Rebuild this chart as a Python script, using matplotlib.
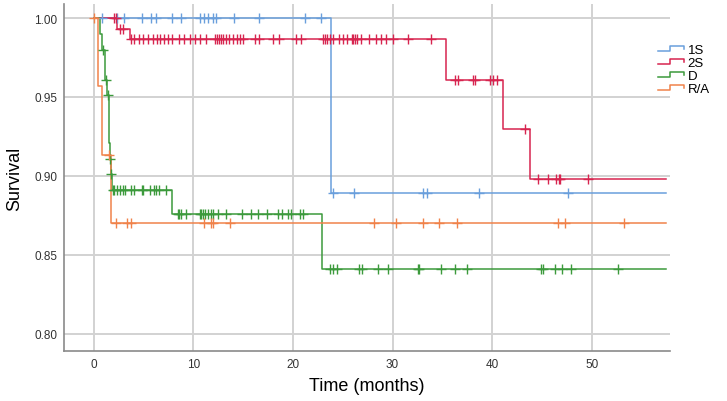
import numpy as np
import matplotlib
matplotlib.use("Agg")
import matplotlib.pyplot as plt
from matplotlib.legend_handler import HandlerBase
from matplotlib.lines import Line2D

plt.rcParams["font.family"] = ["Liberation Sans", "DejaVu Sans"]

X_MAX = 57.5   # curves run on to here

GROUPS = ["1S", "2S", "D", "R/A"]
COLORS = ["#6a9fdc", "#d7244f", "#3c9a3c", "#f0824a"]

# Kaplan-Meier steps: event times and survival after each step
s1_times = [0, 23.8]
s1_surv = [1.0, 0.889]
s1_cens = [0.8, 2.3, 3.0, 4.8, 5.7, 6.2, 7.9, 8.8, 10.7, 11.1, 11.5, 12.0,
           12.3, 14.1, 16.6, 21.2, 22.8,
           24.0, 26.1, 33.1, 33.5, 38.7, 47.6]

s2_times = [0, 2.3, 3.6, 35.4, 41.1, 43.8]
s2_surv = [1.0, 0.993, 0.987, 0.961, 0.930, 0.898]
s2_cens = [2.0, 2.2, 2.6, 2.9,
           3.7, 4.0, 4.5, 4.9, 5.4, 5.9, 6.3, 6.6, 7.0, 7.4, 7.8, 8.6, 9.1,
           9.7, 10.2, 10.7, 11.3, 12.2, 12.4, 12.6, 12.8, 13.0, 13.3, 13.6,
           14.0, 14.4, 14.7, 15.0, 16.2, 16.6, 18.0, 18.6, 20.3, 20.8, 23.0,
           23.2, 23.4, 23.7, 24.0, 24.6, 25.0, 25.4, 25.9, 26.0, 26.2, 26.4,
           26.8, 27.6, 28.3, 28.8, 29.3, 30.0, 31.6, 33.9,
           36.3, 36.6, 38.1, 38.3, 39.8, 40.1, 40.5,
           43.3,
           44.6, 45.6, 46.4, 46.7, 46.8, 49.6]

d_times = [0, 0.6, 0.8, 1.1, 1.3, 1.5, 1.6, 1.7, 1.8, 7.9, 22.9]
d_surv = [1.0, 0.990, 0.980, 0.961, 0.951, 0.921, 0.911, 0.901, 0.891,
          0.876, 0.841]
d_cens = [0.9, 1.2, 1.4, 1.65, 1.75,
          1.9, 2.0, 2.3, 2.6, 2.9, 3.1, 3.7, 4.0, 4.8, 4.9, 5.6, 6.0, 6.2,
          6.5, 7.2,
          8.5, 8.6, 8.8, 9.3, 10.7, 10.8, 11.0, 11.2, 11.5, 11.8, 12.0, 12.5,
          13.3, 14.9, 15.8, 16.5, 17.4, 18.5, 18.9, 19.5, 19.8, 20.7, 21.0,
          23.7, 24.0, 24.4, 26.6, 26.9, 28.5, 29.5, 32.6, 32.7, 34.9, 36.3,
          37.5, 44.9, 45.1, 46.3, 47.0, 47.9, 52.6]

ra_times = [0, 0.4, 0.8, 1.7]
ra_surv = [1.0, 0.957, 0.913, 0.870]
ra_cens = [0.0, 1.5, 2.2, 3.3, 3.7, 11.1, 11.8, 12.0, 13.7, 28.1, 30.3,
           33.1, 34.7, 36.5, 46.6, 47.3, 53.2]

TIMES = [s1_times, s2_times, d_times, ra_times]
SURV = [s1_surv, s2_surv, d_surv, ra_surv]
CENS = [s1_cens, s2_cens, d_cens, ra_cens]


class StepHandler(HandlerBase):
    # little "_|-|" icon like the SPSS legend
    def create_artists(self, legend, orig_handle, xdescent, ydescent,
                       width, height, fontsize, trans):
        x0, w = -xdescent, width
        y0, h = -ydescent, height
        xs = [x0, x0 + 0.45 * w, x0 + 0.45 * w, x0 + w, x0 + w]
        ys = [y0 + 0.2 * h, y0 + 0.2 * h, y0 + 0.8 * h, y0 + 0.8 * h,
              y0 + 0.45 * h]
        line = Line2D(xs, ys, color=orig_handle.get_color(), lw=1.1,
                      transform=trans)
        return [line]


fig = plt.figure(figsize=(7.27, 4.02), dpi=100)
ax = fig.add_axes([0.088, 0.124, 0.834, 0.864])

handles = []
for name, col, t, s, c in zip(GROUPS, COLORS, TIMES, SURV, CENS):
    t = np.asarray(t, float)
    s = np.asarray(s, float)
    xs = np.append(t, X_MAX)
    ys = np.append(s, s[-1])
    ln, = ax.step(xs, ys, where="post", color=col, lw=1.1, label=name,
                  zorder=3)
    c = np.asarray(c, float)
    idx = np.searchsorted(t, c, side="right") - 1
    ax.plot(c, s[idx], ls="none", marker="+", ms=7, mew=1.0, color=col,
            zorder=4)
    handles.append(ln)

ax.set_xlim(-3.0, 57.9)
ax.set_ylim(0.789, 1.009)
ax.set_xticks([0, 10, 20, 30, 40, 50])
ax.set_yticks([0.80, 0.85, 0.90, 0.95, 1.00])
ax.set_yticklabels(["0.80", "0.85", "0.90", "0.95", "1.00"])
ax.grid(True, color="#d2d2d2", lw=1.4, zorder=0)
ax.set_axisbelow(True)
for side in ["top", "right"]:
    ax.spines[side].set_visible(False)
for side in ["left", "bottom"]:
    ax.spines[side].set_color("#8a8a8a")
    ax.spines[side].set_linewidth(1.2)
ax.tick_params(length=0, labelsize=8.5, colors="#333333", pad=5)

ax.set_xlabel("Time (months)", fontsize=13, labelpad=5)
ax.set_ylabel("Survival", fontsize=13, labelpad=8)

fig.legend(handles=handles, labels=GROUPS, loc="upper left",
           bbox_to_anchor=(0.905, 0.888), frameon=False, fontsize=9.5,
           handler_map={Line2D: StepHandler()}, handlelength=2.0,
           handletextpad=0.25, labelspacing=0.05, borderpad=0,
           borderaxespad=0)

fig.savefig("out.png", dpi=100)
